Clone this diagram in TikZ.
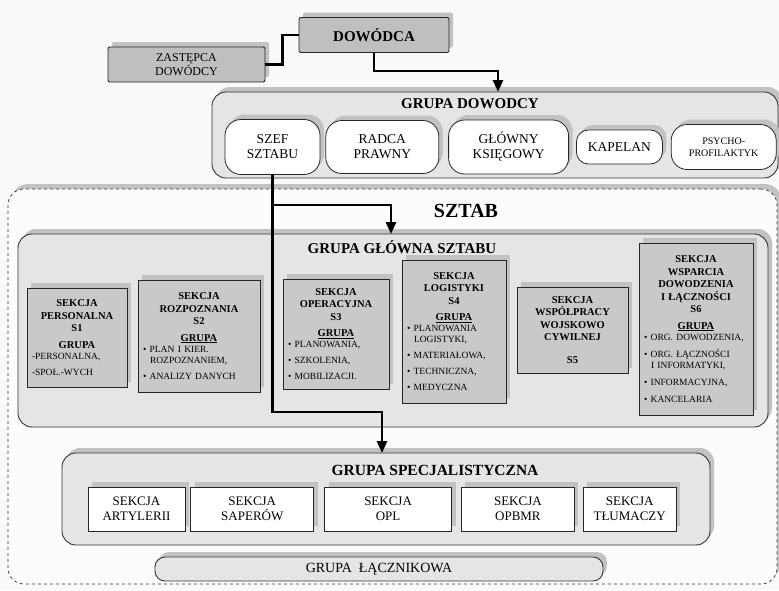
\documentclass[tikz,border=0pt]{standalone}
\usepackage{fontspec}
\setmainfont{Liberation Serif}
\usetikzlibrary{positioning}
\usetikzlibrary{arrows.meta}
\usetikzlibrary{shadows}
\newcommand{\sektyt}[1]{{\centering\bfseries\fontsize{10.5}{12.5}\selectfont #1\par}}
\newcommand{\sekpoz}[1]{{\raggedright\fontsize{9.5}{11}\selectfont #1\par}}

\begin{document}
\begin{tikzpicture}[x=1pt,y=-1pt,
  cien/.style={drop shadow={shadow xshift=4pt,shadow yshift=5pt,fill=gray!48,opacity=1}},
  szary/.style={draw=black!85,line width=0.9pt,fill=gray!50,cien,rounded corners=2pt},
  grupa/.style={draw=black!80,line width=0.9pt,fill=gray!20,cien,rounded corners=14pt},
  pigulka/.style={draw=black!85,line width=0.8pt,fill=white,cien,rounded corners=16pt,align=center,font=\fontsize{13.5}{15}\selectfont},
  sekcja/.style={draw=black!85,line width=0.9pt,fill=gray!42,cien,inner xsep=5pt,inner ysep=2pt},
  specbox/.style={draw=black!85,line width=0.8pt,fill=white,cien,align=center,font=\fontsize{13}{15}\selectfont,minimum height=44pt},
  tytul/.style={font=\bfseries\fontsize{15}{17}\selectfont},
  polacz/.style={line width=2.6pt,black},
  strzalka/.style={polacz,-{Triangle[width=10pt,length=12pt]}}]
\useasboundingbox (0,0) rectangle (779,590);
\fill[gray!5] (0,0) rectangle (779,590);

\node[szary,minimum width=150pt,minimum height=35pt,font=\bfseries\fontsize{15}{17}\selectfont] (dowodca) at (374,35) {DOWÓDCA};
\node[szary,minimum width=157pt,minimum height=35pt,align=center,font=\fontsize{12}{12.5}\selectfont] (zastepca) at (186.5,64.5) {ZASTĘPCA\\DOWÓDCY};

\node[grupa,minimum width=566pt,minimum height=86pt] (gdow) at (495,135) {};
\node[tytul] (gdowtyt) at (470,104) {GRUPA DOWODCY};
\node[pigulka,minimum width=95pt,minimum height=55pt] (szef) at (272.5,147) {SZEF\\SZTABU};
\node[pigulka,minimum width=113pt,minimum height=53pt,right=5pt of szef] (radca) {RADCA\\PRAWNY};
\node[pigulka,minimum width=120pt,minimum height=54pt,right=9pt of radca] (ksiegowy) {GŁÓWNY\\KSIĘGOWY};
\node[pigulka,minimum width=86pt,minimum height=34pt,rounded corners=12pt,right=7pt of ksiegowy] (kapelan) {KAPELAN};
\node[pigulka,minimum width=105pt,minimum height=45pt,font=\fontsize{10}{12}\selectfont,right=8pt of kapelan] (psycho) {PSYCHO-\\PROFILAKTYK};

\node[draw=black!80,dashed,line width=0.7pt,fill=gray!2,cien,rounded corners=16pt,minimum width=769pt,minimum height=395pt] (sztab) at (392.5,386.5) {};
\node[font=\bfseries\fontsize{20}{22}\selectfont] (sztabtyt) at (466,211) {SZTAB};

\node[grupa,minimum width=750pt,minimum height=193pt] (glowna) at (393,330.5) {};
\node[tytul] (glownatyt) at (402,247) {GRUPA GŁÓWNA SZTABU};
\node[sekcja,text width=90pt,minimum height=99pt] (s1) at (77,337.5) {\sektyt{SEKCJA\\PERSONALNA\\S1\\[4pt]GRUPA}\sekpoz{-PERSONALNA,\\[5pt]-SPOŁ.-WYCH}};
\node[sekcja,text width=112pt,minimum height=112pt] (s2) at (199,336) {\sektyt{SEKCJA\\ROZPOZNANIA\\S2\\[4pt]\underline{GRUPA}}\sekpoz{• PLAN I KIER.\\\hspace*{7pt}ROZPOZNANIEM,\\[5pt]• ANALIZY DANYCH}};
\node[sekcja,text width=96pt,minimum height=110pt] (s3) at (336,334) {\sektyt{SEKCJA\\OPERACYJNA\\S3\\[4pt]\underline{GRUPA}}\sekpoz{• PLANOWANIA,\\[5pt]• SZKOLENIA,\\[5pt]• MOBILIZACJI.}};
\node[sekcja,text width=94pt,minimum height=143pt] (s4) at (454,331.5) {\sektyt{SEKCJA\\LOGISTYKI\\S4\\[4pt]\underline{GRUPA}}\sekpoz{• PLANOWANIA\\\hspace*{7pt}LOGISTYKI,\\[5pt]• MATERIAŁOWA,\\[5pt]• TECHNICZNA,\\[5pt]• MEDYCZNA}};
\node[sekcja,text width=101pt,minimum height=86pt] (s5) at (572.5,330) {\sektyt{SEKCJA\\WSPÓŁPRACY\\WOJSKOWO\\CYWILNEJ\\[10pt]S5}};
\node[sekcja,text width=104pt,minimum height=172pt] (s6) at (696,329) {\sektyt{SEKCJA\\WSPARCIA\\DOWODZENIA\\I ŁĄCZNOŚCI\\S6\\[4pt]\underline{GRUPA}}\sekpoz{• ORG. DOWODZENIA,\\[6pt]• ORG. ŁĄCZNOŚCI\\\hspace*{7pt}I INFORMATYKI,\\[6pt]• INFORMACYJNA,\\[6pt]• KANCELARIA}};

\node[grupa,minimum width=648pt,minimum height=92pt] (spec) at (386,499) {};
\node[tytul,font=\bfseries\fontsize{15.5}{17}\selectfont] (spectyt) at (435,470) {GRUPA SPECJALISTYCZNA};
\node[specbox,minimum width=97pt] (artyl) at (136.5,509) {SEKCJA\\ARTYLERII};
\node[specbox,minimum width=123pt,right=5pt of artyl] (saper) {SEKCJA\\SAPERÓW};
\node[specbox,minimum width=127pt,right=10pt of saper] (opl) {SEKCJA\\OPL};
\node[specbox,minimum width=113pt,right=9pt of opl] (opbmr) {SEKCJA\\OPBMR};
\node[specbox,minimum width=93pt,right=8pt of opbmr] (tlumacz) {SEKCJA\\TŁUMACZY};

\node[grupa,rounded corners=10pt,minimum width=448pt,minimum height=24pt,font=\fontsize{14}{15}\selectfont] (lacznik) at (379,569) {GRUPA\ \ ŁĄCZNIKOWA};

\coordinate (gdowwej) at (498,92);
\coordinate (rozw) at (272.5,205);
\coordinate (glownawej) at (391,234);
\coordinate (zakret) at (272.5,412);
\coordinate (specwej) at (382,453);
\draw[polacz] (zastepca.east) -- ++(17,0) |- (dowodca.west);
\draw[strzalka] (dowodca.south) -- ++(0,18) -| (gdowwej);
\draw[strzalka] (szef.south) -- (zakret) -| (specwej);
\draw[strzalka] (rozw) -| (glownawej);
\end{tikzpicture}
\end{document}
